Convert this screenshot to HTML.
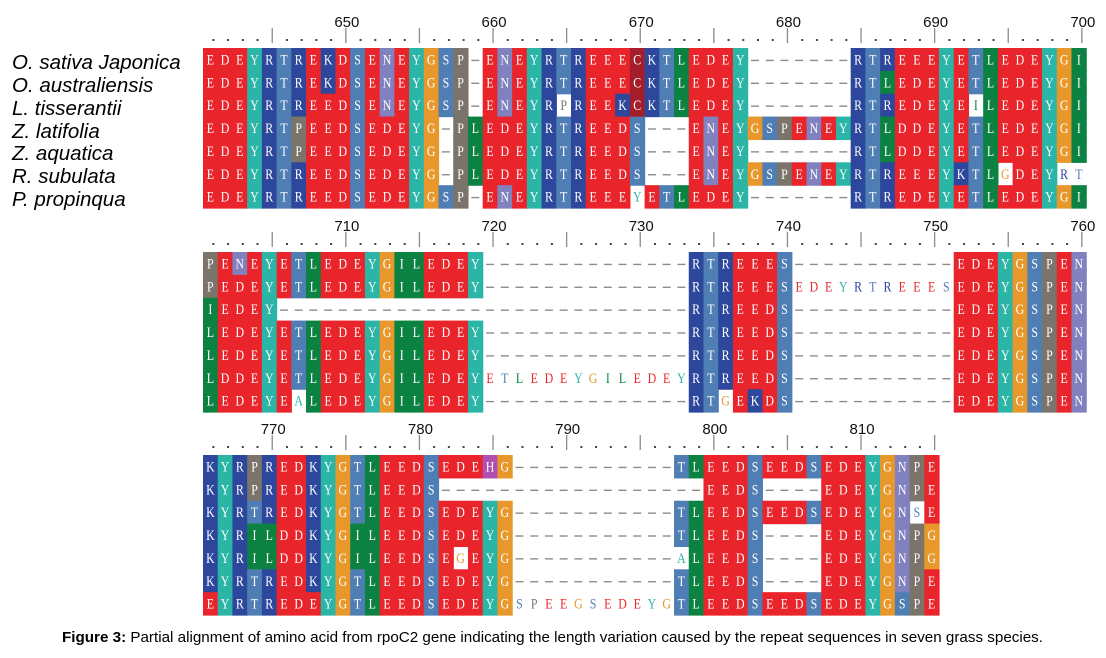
<!DOCTYPE html>
<html><head><meta charset="utf-8">
<style>
html,body{margin:0;padding:0;background:#fff;}
#wrap{position:relative;width:1106px;height:658px;overflow:hidden;}
svg{position:absolute;left:0;top:0;}
</style></head>
<body>
<div id="wrap">
<svg id="fig" width="1106" height="658" viewBox="0 0 1106 658" xmlns="http://www.w3.org/2000/svg">
<g id="labels" font-family="Liberation Sans, sans-serif" font-style="italic" font-size="20.5" fill="#000">
<text x="12" y="69">O. sativa Japonica</text>
<text x="12" y="92">O. australiensis</text>
<text x="12" y="115">L. tisserantii</text>
<text x="12" y="138">Z. latifolia</text>
<text x="12" y="160">Z. aquatica</text>
<text x="12" y="183">R. subulata</text>
<text x="12" y="206">P. propinqua</text>
</g>
<text x="62" y="642" font-family="Liberation Sans, sans-serif" font-size="15.2" fill="#000"><tspan font-weight="bold">Figure 3:</tspan> Partial alignment of amino acid from rpoC2 gene indicating the length variation caused by the repeat sequences in seven grass species.</text>
</svg>
</div>
<script>
const block1 = [
"EDEYRTREKDSENEYGSP-ENEYRTREEECKTLEDEY-------RTREEEYETLEDEYGI",
"EDEYRTREKDSENEYGSP-ENEYRTREEECKTLEDEY-------RTLEDEYETLEDEYGI",
"EDEYRTREEDSENEYGSP-ENEYRpREEKCKTLEDEY-------RTREDEYEiLEDEYGI",
"EDEYRTPEEDSEDEYG-PLEDEYRTREEDS---ENEYGSPENEYRTLDDEYETLEDEYGI",
"EDEYRTPEEDSEDEYG-PLEDEYRTREEDS---ENEY-------RTLDDEYETLEDEYGI",
"EDEYRTREEDSEDEYG-PLEDEYRTREEDS---ENEYGSPENEYRTREEEYKTLgDEYrt",
"EDEYRTREEDSEDEYGSP-ENEYRTREEEyETLEDEY-------RTREDEYETLEDEYGI"
];
const block2 = [
"PENEYETLEDEYGILEDEY--------------RTREEES-----------EDEYGSPEN",
"PEDEYETLEDEYGILEDEY--------------RTREEESedeyrtreeesEDEYGSPEN",
"IEDEY----------------------------RTREEDS-----------EDEYGSPEN",
"LEDEYETLEDEYGILEDEY--------------RTREEDS-----------EDEYGSPEN",
"LEDEYETLEDEYGILEDEY--------------RTREEDS-----------EDEYGSPEN",
"LDDEYETLEDEYGILEDEYetledeygiledeyRTREEDS-----------EDEYGSPEN",
"LEDEYEaLEDEYGILEDEY--------------RTgEKDS-----------EDEYGSPEN"
];
const block3 = [
"KYRPREDKYGTLEEDSEDEHG-----------TLEEDSEEDSEDEYGNPE",
"KYRPREDKYGTLEEDS------------------EEDS----EDEYGNPE",
"KYRTREDKYGTLEEDSEDEYG-----------TLEEDSEEDSEDEYGNsE",
"KYRILDDKYGILEEDSEDEYG-----------TLEEDS----EDEYGNPG",
"KYRILDDKYGILEEDSEgEYG-----------aLEEDS----EDEYGNPG",
"KYRTREDKYGTLEEDSEDEYG-----------TLEEDS----EDEYGNPE",
"EYRTREDEYGTLEEDSEDEYGspeegsedeygTLEEDSEEDSEDEYGSPE"
];
const blockStartNumbers = [641, 701, 766];

const NS = "http://www.w3.org/2000/svg";
const svg = document.getElementById('fig');
const X0 = 203, W = 14.72, RH = 22.86;
const TOPS = [48, 252, 455];
const COL = {E:'#e9252b',D:'#e9252b',Y:'#2bb5a6',R:'#2d479d',K:'#2d479d',T:'#4f7eb4',S:'#4f7eb4',
  N:'#8181c0',G:'#e8982b',P:'#7b746b',C:'#a31d2a',L:'#0b8241',I:'#0b8241',H:'#b04fb0',A:'#2bb5a6',Q:'#8181c0'};

function el(tag, attrs){ const e=document.createElementNS(NS,tag); for(const k in attrs) e.setAttribute(k,attrs[k]); return e; }

function drawBlock(rows, top, startNum, bi){
  const g = el('g',{});
  
  
  svg.appendChild(g);
  const ncol = rows[0].length;
  const rg = el('g',{});
  
  
  g.appendChild(rg);
  for(let c=0;c<ncol;c++){
    const n = startNum + c;
    const x = X0 + W*(c+0.5) + 3;
    if(n%5===0){
      const t = el('line',{x1:x,x2:x,y1:top-20,y2:top-5,stroke:'#8a8a8a','stroke-width':1.3});
      
      
      rg.appendChild(t);
      if(n%10===0){
        const lb = el('text',{x:x+1,y:top-21,'text-anchor':'middle','font-family':'Liberation Sans, sans-serif','font-size':'15',fill:'#111'});
        lb.textContent = n;
        
        
        rg.appendChild(lb);
      }
    } else {
      const d = el('rect',{x:x-1,y:top-9,width:2,height:2,fill:'#444'});
      
      
      rg.appendChild(d);
    }
  }
  rows.forEach((seq,r)=>{
    const y = top + r*RH;
    for(let c=0;c<seq.length;c++){
      const ch = seq[c];
      const x = X0 + W*c;
      const cx = x + W/2;
      if(ch==='-'){
        const dl = el('line',{x1:cx-4,x2:cx+4,y1:y+RH/2+1,y2:y+RH/2+1,stroke:'#8c8c8c','stroke-width':1.4});
        
        
        g.appendChild(dl);
        continue;
      }
      const up = ch.toUpperCase();
      const lower = ch!==up;
      const color = COL[up]||'#888';
      if(!lower){
        const rc = el('rect',{x:x,y:y,width:W+0.6,height:RH+0.6,fill:color});
        
        
        g.appendChild(rc);
      }
      const tx = el('text',{x:0,y:0,'text-anchor':'middle','font-family':'Liberation Serif, serif','font-size':'14',fill: lower?color:'#fff',transform:'translate('+cx+','+(y+16.5)+') scale(0.85,1.05)'});
      tx.textContent = up;
      
      
      g.appendChild(tx);
    }
  });
}
[block1,block2,block3].forEach((b,i)=>drawBlock(b, TOPS[i], blockStartNumbers[i], i));
</script>
</body></html>
